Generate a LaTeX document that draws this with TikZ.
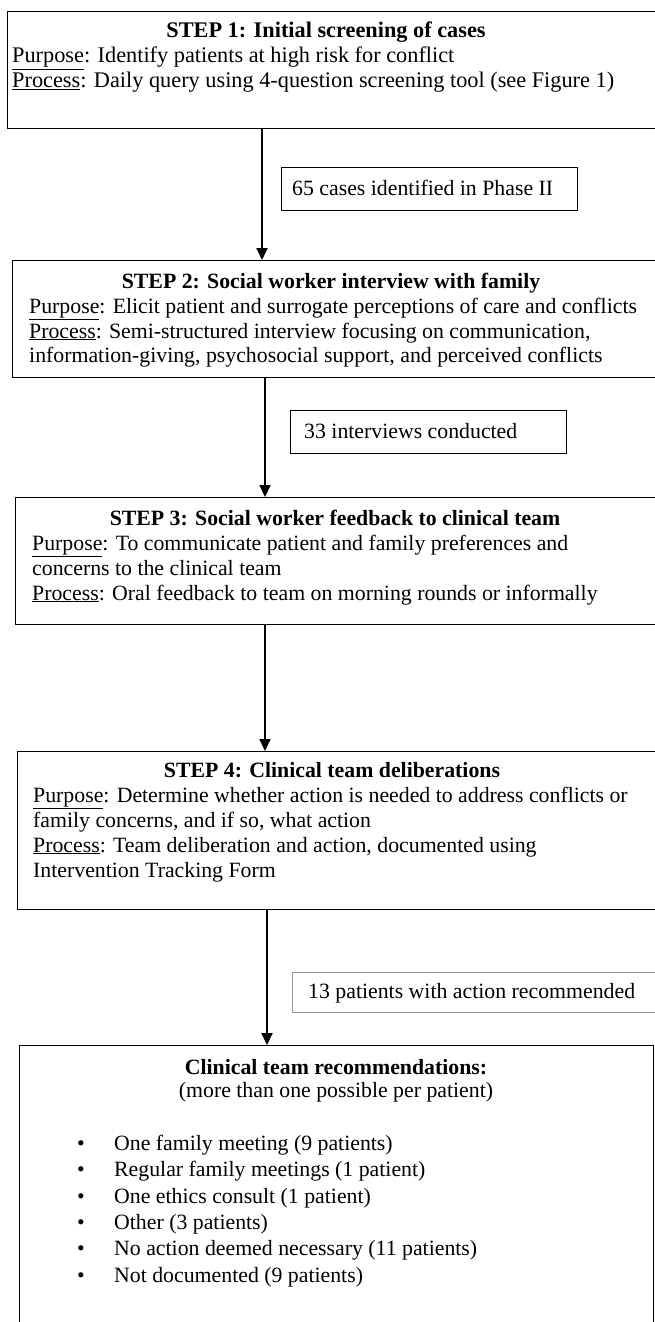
\documentclass[tikz,border=0pt]{standalone}
\usepackage{fontspec}
\setmainfont{Liberation Serif}
\usetikzlibrary{arrows.meta}

\begin{document}
\begin{tikzpicture}
		[x=1pt, y=-1pt,
		every node/.style={inner sep=0pt, font=\fontsize{21.8}{25}\selectfont},
		stepbox/.style={draw=black, line width=1.3pt, anchor=north west},
		countbox/.style={draw=black, line width=1.3pt, anchor=north west},
		txt/.style={anchor=base west},
		wide/.style={font=\fontsize{22.3}{25}\selectfont},
		head/.style={anchor=base, font=\fontsize{21.8}{25}\selectfont\bfseries},
		widehead/.style={anchor=base, font=\fontsize{22.3}{25}\selectfont\bfseries},
		flow/.style={line width=2pt, black, -{Triangle[width=11pt,length=12pt]}}]
		\useasboundingbox (0,0) rectangle (654,1322);

		% Step boxes
		\node[stepbox, minimum width=660pt, minimum height=117pt] (step1) at (7,11) {};
		\node[stepbox, minimum width=655pt, minimum height=117pt] (step2) at (12,260) {};
		\node[stepbox, minimum width=655pt, minimum height=127pt] (step3) at (15,497) {};
		\node[stepbox, minimum width=655pt, minimum height=158pt] (step4) at (17,751) {};
		\node[stepbox, minimum width=634pt, minimum height=290pt] (recs) at (19,1045) {};

		% Step 1
		\node[widehead] (step1h) at (326,38) {STEP 1: Initial screening of cases};
		\node[txt, wide] (step1a) at (12,63) {\underline{Purpose}: Identify patients at high risk for conflict};
		\node[txt, wide] (step1b) at (12,88) {\underline{Process}: Daily query using 4-question screening tool (see Figure 1)};

		% Step 2
		\node[head] (step2h) at (331,288) {STEP 2: Social worker interview with family};
		\node[txt] (step2a) at (29,313) {\underline{Purpose}: Elicit patient and surrogate perceptions of care and conflicts};
		\node[txt] (step2b) at (29,338) {\underline{Process}: Semi-structured interview focusing on communication,};
		\node[txt] (step2c) at (29,362) {information-giving, psychosocial support, and perceived conflicts};

		% Step 3
		\node[head] (step3h) at (335,525) {STEP 3: Social worker feedback to clinical team};
		\node[txt] (step3a) at (32,550) {\underline{Purpose}: To communicate patient and family preferences and};
		\node[txt] (step3b) at (32,575) {concerns to the clinical team};
		\node[txt] (step3c) at (32,600) {\underline{Process}: Oral feedback to team on morning rounds or informally};

		% Step 4
		\node[head] (step4h) at (332,777) {STEP 4: Clinical team deliberations};
		\node[txt] (step4a) at (33,802) {\underline{Purpose}: Determine whether action is needed to address conflicts or};
		\node[txt] (step4b) at (33,827) {family concerns, and if so, what action};
		\node[txt] (step4c) at (33,852) {\underline{Process}: Team deliberation and action, documented using};
		\node[txt] (step4d) at (33,877) {Intervention Tracking Form};

		% Recommendations
		\node[head] (recsh) at (336,1074) {Clinical team recommendations:};
		\node[anchor=base] (recss) at (336,1097) {(more than one possible per patient)};
		\node[txt] (rec1) at (77,1150) {\makebox[37pt][l]{\textbullet}One family meeting (9 patients)};
		\node[txt] (rec2) at (77,1176) {\makebox[37pt][l]{\textbullet}Regular family meetings (1 patient)};
		\node[txt] (rec3) at (77,1203) {\makebox[37pt][l]{\textbullet}One ethics consult (1 patient)};
		\node[txt] (rec4) at (77,1229) {\makebox[37pt][l]{\textbullet}Other (3 patients)};
		\node[txt] (rec5) at (77,1255) {\makebox[37pt][l]{\textbullet}No action deemed necessary (11 patients)};
		\node[txt] (rec6) at (77,1282) {\makebox[37pt][l]{\textbullet}Not documented (9 patients)};

		% Counts
		\node[countbox, minimum width=296pt, minimum height=43pt] (count1) at (281,167) {};
		\node[txt] (count1t) at (292,195) {65 cases identified in Phase II};
		\node[countbox, minimum width=276pt, minimum height=43pt] (count2) at (290,410) {};
		\node[txt] (count2t) at (304,438) {33 interviews conducted};
		\node[countbox, draw=black!40, minimum width=380pt, minimum height=40pt] (count3) at (292,972) {};
		\node[txt] (count3t) at (308,998) {13 patients with action recommended};

		% Arrows
		\coordinate (a1) at (262,0);
		\coordinate (a2) at (265,0);
		\coordinate (a3) at (265,0);
		\coordinate (a4) at (267,0);
		\draw[flow] (a1 |- step1.south) -- (a1 |- step2.north);
		\draw[flow] (a2 |- step2.south) -- (a2 |- step3.north);
		\draw[flow] (a3 |- step3.south) -- (a3 |- step4.north);
		\draw[flow] (a4 |- step4.south) -- (a4 |- recs.north);
	\end{tikzpicture}
\end{document}
